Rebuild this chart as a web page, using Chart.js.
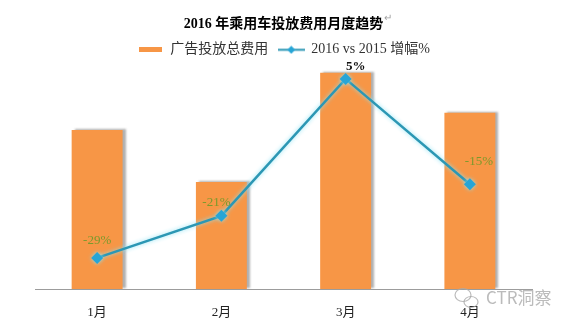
<!DOCTYPE html>
<html>
<head>
<meta charset="utf-8">
<script src="https://cdn.jsdelivr.net/npm/chart.js@4/dist/chart.umd.min.js"></script>
<style>
  html, body { margin: 0; padding: 0; background: #fff; }
  canvas { display: block; }
</style>
</head>
<body>
<canvas id="trend-chart" width="579" height="328"></canvas>
<script>
// Monthly data
const months = ['1月', '2月', '3月', '4月'];
const spendValues = [71.6, 48.2, 97.3, 79.3];   // 广告投放总费用 (relative)
const growthValues = [-29, -21, 5, -15];        // 2016 vs 2015 增幅%

const SERIF = "'Liberation Serif', 'Noto Sans CJK SC', serif";
const ORANGE = '#F79646';
const TEAL = '#2C97B4';
const MARKER = '#27A5D6';

// Small canvases used as legend symbols
function makeSwatch(w, h, draw) {
    const c = document.createElement('canvas');
    c.width = w;
    c.height = h;
    draw(c.getContext('2d'), w, h);
    return c;
}

const barSwatch = makeSwatch(23, 5, (ctx, w, h) => {
    ctx.fillStyle = ORANGE;
    ctx.fillRect(0, 0, w, h);
});

const lineSwatch = makeSwatch(27, 9, (ctx, w, h) => {
    ctx.strokeStyle = TEAL;
    ctx.lineWidth = 2;
    ctx.beginPath();
    ctx.moveTo(0, h / 2);
    ctx.lineTo(w, h / 2);
    ctx.stroke();
    ctx.fillStyle = MARKER;
    ctx.beginPath();
    ctx.moveTo(w / 2, 0.5);
    ctx.lineTo(w / 2 + 4, h / 2);
    ctx.lineTo(w / 2, h - 0.5);
    ctx.lineTo(w / 2 - 4, h / 2);
    ctx.closePath();
    ctx.fill();
});

// Shadow behind the bars, soft glow around the line
const markShadows = {
    id: 'markShadows',
    beforeDatasetDraw(chart, args) {
        const ctx = chart.ctx;
        ctx.save();
        if (args.index === 0) {
            ctx.shadowColor = 'rgba(80,80,80,0.45)';
            ctx.shadowOffsetX = 3;
            ctx.shadowOffsetY = -1;
            ctx.shadowBlur = 2;
        } else {
            ctx.shadowColor = 'rgba(140,228,246,0.95)';
            ctx.shadowBlur = 4;
        }
    },
    afterDatasetDraw(chart) {
        chart.ctx.restore();
    }
};

// Percentage labels next to each line point
const labelShift = [[0, -17], [-5, -13], [10, -12], [9, -23]];
const pctLabels = {
    id: 'pctLabels',
    afterDatasetsDraw(chart) {
        const ctx = chart.ctx;
        const meta = chart.getDatasetMeta(1);
        ctx.save();
        ctx.textAlign = 'center';
        ctx.textBaseline = 'middle';
        meta.data.forEach((pt, i) => {
            const v = growthValues[i];
            if (v < 0) {
                ctx.font = '13px ' + SERIF;
                ctx.fillStyle = '#7A9A2C';
            } else {
                ctx.font = 'bold 13px ' + SERIF;
                ctx.fillStyle = '#111';
            }
            ctx.fillText(v + '%', pt.x + labelShift[i][0], pt.y + labelShift[i][1]);
        });
        ctx.restore();
    }
};

// Paragraph mark after the title and the corner watermark
const extras = {
    id: 'extras',
    afterDraw(chart) {
        const ctx = chart.ctx;
        const title = chart.options.plugins.title;
        const tb = chart.titleBlock;
        ctx.save();
        ctx.font = 'bold 14px ' + SERIF;
        const w = ctx.measureText(title.text).width;
        const cx = (tb.left + tb.right) / 2;
        ctx.font = '10px ' + SERIF;
        ctx.fillStyle = '#a0a0a0';
        ctx.textBaseline = 'middle';
        ctx.fillText('↵', cx + w / 2 + 1, (tb.top + tb.bottom) / 2 + 2);

        // watermark bubbles
        ctx.strokeStyle = 'rgba(170,170,170,0.8)';
        ctx.lineWidth = 1.2;
        ctx.beginPath();
        ctx.ellipse(463, 295, 8, 6.5, 0, 0, Math.PI * 2);
        ctx.stroke();
        ctx.beginPath();
        ctx.ellipse(471, 302, 7, 5.5, 0, 0, Math.PI * 2);
        ctx.stroke();

        ctx.font = '17px "Noto Sans CJK SC", sans-serif';
        ctx.fillStyle = 'rgba(175,175,175,0.85)';
        ctx.textAlign = 'left';
        ctx.fillText('CTR洞察', 486, 298);
        ctx.restore();
    }
};

new Chart(document.getElementById('trend-chart'), {
    data: {
        labels: months,
        datasets: [
            {
                type: 'bar',
                label: '广告投放总费用',
                data: spendValues,
                backgroundColor: ORANGE,
                borderWidth: 0,
                categoryPercentage: 1,
                barPercentage: 0.41,
                yAxisID: 'y',
                order: 1
            },
            {
                type: 'line',
                label: '2016 vs 2015 增幅%',
                data: growthValues,
                borderColor: TEAL,
                borderWidth: 2.5,
                pointStyle: 'rectRot',
                pointRadius: 6,
                pointBackgroundColor: MARKER,
                pointBorderColor: MARKER,
                pointBorderWidth: 0,
                tension: 0,
                yAxisID: 'y1',
                order: 0
            }
        ]
    },
    options: {
        responsive: false,
        animation: false,
        layout: {
            padding: { left: 35, right: 47, top: 0, bottom: 0 }
        },
        scales: {
            x: {
                grid: { display: false, drawTicks: false },
                border: { display: true, color: '#9c9c9c', width: 1 },
                ticks: {
                    padding: 16,
                    color: '#222',
                    font: { size: 13, family: SERIF }
                },
                afterFit(scale) {
                    scale.height = 39;
                }
            },
            y: {
                display: false,
                min: 0,
                max: 100
            },
            y1: {
                display: false,
                min: -34.9,
                max: 7.3
            }
        },
        plugins: {
            title: {
                display: true,
                text: '2016 年乘用车投放费用月度趋势',
                color: '#000',
                font: { size: 14, weight: 'bold', family: SERIF },
                padding: { top: 16, bottom: 0 }
            },
            legend: {
                display: true,
                labels: {
                    usePointStyle: true,
                    pointStyleWidth: 26,
                    padding: 10,
                    color: '#333',
                    font: { size: 14, family: SERIF },
                    generateLabels(chart) {
                        const items = Chart.defaults.plugins.legend.labels.generateLabels(chart);
                        items.sort((a, b) => a.datasetIndex - b.datasetIndex);
                        items.forEach(item => {
                            item.pointStyle = item.datasetIndex === 0 ? barSwatch : lineSwatch;
                        });
                        return items;
                    }
                }
            },
            tooltip: { enabled: false }
        }
    },
    plugins: [markShadows, pctLabels, extras]
});
</script>
</body>
</html>
